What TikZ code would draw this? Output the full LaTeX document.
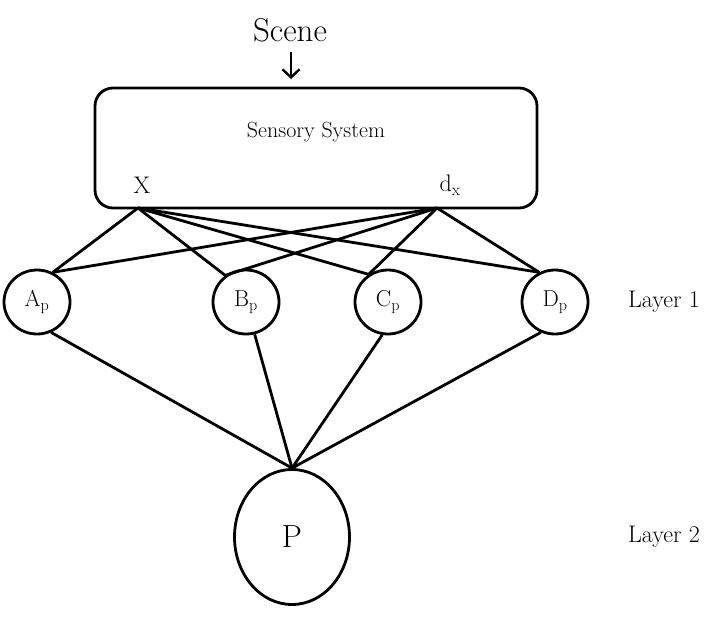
\documentclass[tikz,border=0pt]{standalone}
\usetikzlibrary{arrows.meta,shapes.geometric}
\begin{document}
\begin{tikzpicture}[x=1pt,y=-1pt, line width=2.8pt,
  unitnode/.style={ellipse, draw, minimum width=66pt, minimum height=64pt, inner sep=0pt, font=\fontsize{23}{27}\selectfont},
  lbl/.style={font=\fontsize{24}{28}\selectfont},
  conn/.style={line width=2.8pt}]
\useasboundingbox (0,0) rectangle (711,629);
\node[font=\fontsize{33}{38}\selectfont] (scene) at (290,30) {Scene};
\node[draw, rounded corners=18pt, minimum width=442pt, minimum height=120pt, inner sep=0pt] (sys) at (316,148) {};
\node[font=\fontsize{22}{26}\selectfont] (sstext) at (316,132) {Sensory System};
\node[font=\fontsize{24}{28}\selectfont] (xlab) at (142,185) {X};
\node[font=\fontsize{24}{28}\selectfont] (dlab) at (450,185) {d\textsubscript{x}};
\coordinate (xp) at (138,208);
\coordinate (dp) at (437,208);
\coordinate (arrs) at (291,52);
\coordinate (arre) at (291,79);
\draw[-{Straight Barb[length=8pt,width=17pt]}, line width=2.4pt] (arrs) -- (arre);

\node[unitnode] (A) at (37,302) {A\textsubscript{p}};
\node[unitnode] (B) at (246,302) {B\textsubscript{p}};
\node[unitnode] (C) at (388,302) {C\textsubscript{p}};
\node[unitnode] (D) at (555,302) {D\textsubscript{p}};
\node[lbl] (l1) at (664,302) {Layer 1};
\node[ellipse, draw, minimum width=115pt, minimum height=135pt, inner sep=0pt, font=\fontsize{32}{36}\selectfont] (P) at (292,537) {P};
\node[lbl] (l2) at (664,537) {Layer 2};

\foreach \n/\a in {A/62,B/128,C/125,D/118}{
  \draw[conn] (xp) -- (\n.\a);
  \draw[conn] (dp) -- (\n.\a);
}
\foreach \n/\a in {A/-65,B/-75,C/-100,D/-115}{
  \draw[conn] (\n.\a) -- (P.north);
}
\end{tikzpicture}
\end{document}
